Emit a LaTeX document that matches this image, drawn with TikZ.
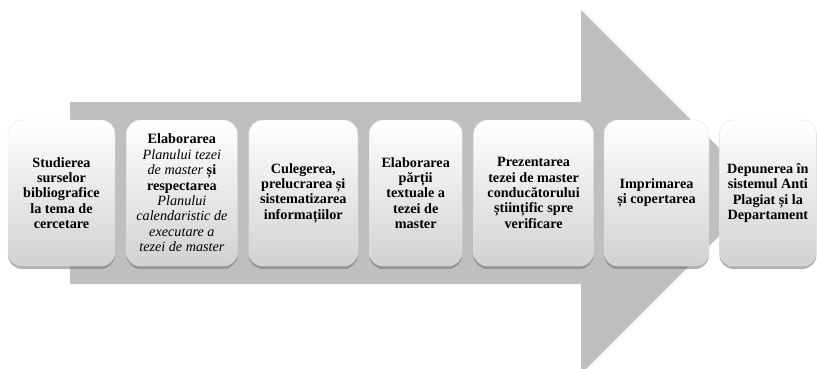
\documentclass[tikz,border=0pt]{standalone}
\usepackage{fontspec}
\setmainfont{Liberation Serif}
\usepackage{tikz}
\usetikzlibrary{
    positioning,
    shadows
}
\definecolor{arrgray}{HTML}{BFBFBF}
\newcommand{\itl}[1]{{\mdseries\itshape #1}}
\tikzset{rbox/.style={inner sep=0pt, rounded corners=14pt, minimum height=146pt,
        align=center, font=\bfseries\fontsize{14.2}{15.4}\selectfont,
        top color=white, middle color=white, bottom color=black!18,
        draw=black!12, line width=0.4pt,
        drop shadow={shadow xshift=0pt, shadow yshift=-3pt, opacity=0.55, fill=black!55}},
    bigarr/.style={fill=arrgray, draw=none}}

\begin{document}
\begin{tikzpicture}[x=1pt, y=-1pt]
                        \useasboundingbox (0, 0) rectangle (817, 369);
                        \fill[bigarr] (70, 102) -- (581, 102) -- (581, 10) -- (763, 192)
                            -- (581, 374) -- (581, 284) -- (70, 284) -- cycle;
                        \node[rbox, minimum width=107pt] (studiu) at (61.5, 193)
                            {Studierea\\ surselor\\ bibliografice\\ la tema de\\ cercetare};
                        \node[rbox, minimum width=111pt, right=11pt of studiu] (plan)
                            {Elaborarea\\ \itl{Planului tezei}\\ \itl{de master} și\\ respectarea\\
                            \itl{Planului}\\ \itl{calendaristic de}\\ \itl{executare a}\\ \itl{tezei de master}};
                        \node[rbox, minimum width=109pt, right=11pt of plan] (culeg)
                            {Culegerea,\\ prelucrarea și\\ sistematizarea\\ informațiilor};
                        \node[rbox, minimum width=93pt, right=11pt of culeg] (parti)
                            {Elaborarea\\ părții\\ textuale a\\ tezei de\\ master};
                        \node[rbox, minimum width=120pt, right=11pt of parti] (prez)
                            {Prezentarea\\ tezei de master\\ conducătorului\\ științific spre\\ verificare};
                        \node[rbox, minimum width=105pt, right=10pt of prez] (impr)
                            {Imprimarea\\ și copertarea};
                        \node[rbox, minimum width=97pt, right=10pt of impr] (depun)
                            {Depunerea în\\ sistemul Anti\\ Plagiat și la\\ Departament};
                    \end{tikzpicture}
\end{document}
